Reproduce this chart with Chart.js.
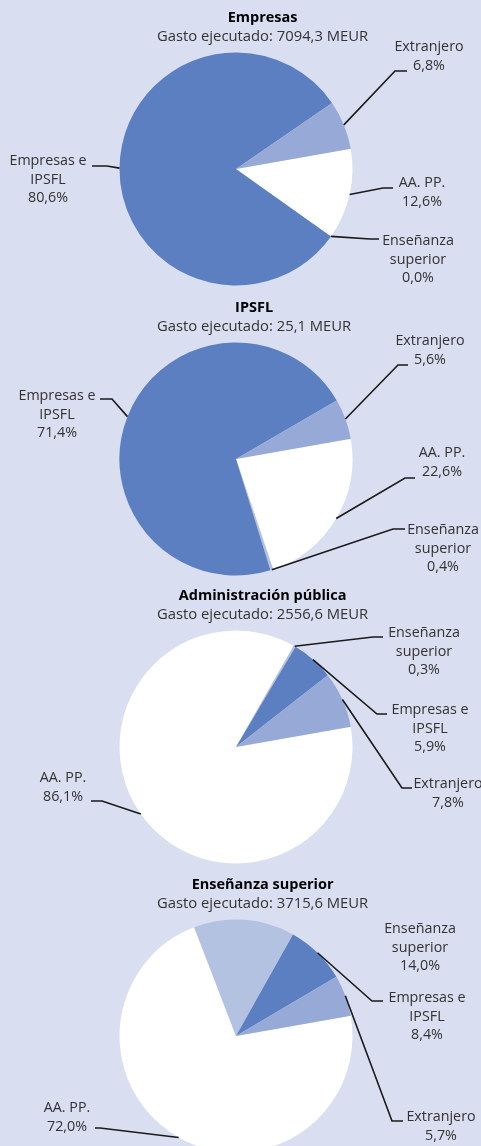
<!DOCTYPE html>
<html>
<head>
<meta charset="utf-8">
<script src="https://cdn.jsdelivr.net/npm/chart.js@4/dist/chart.umd.min.js"></script>
<style>
  html, body { margin: 0; padding: 0; }
  body { width: 481px; height: 1146px; overflow: hidden; background: #d9def0; position: relative; }
  canvas { position: absolute; left: 0; }
</style>
</head>
<body>
<canvas id="c0" width="481" height="290" style="top:0px"></canvas>
<canvas id="c1" width="481" height="290" style="top:290px"></canvas>
<canvas id="c2" width="481" height="290" style="top:578px"></canvas>
<canvas id="c3" width="481" height="290" style="top:867px"></canvas>
<script>
// slice order as in the source (clockwise, first slice starts just above 3 o'clock)
const categories = ['AA. PP.', 'Enseñanza superior', 'Empresas e IPSFL', 'Extranjero'];
const categoryLines = [['AA. PP.'], ['Enseñanza', 'superior'], ['Empresas e', 'IPSFL'], ['Extranjero']];

const chartTitles = ['Empresas', 'IPSFL', 'Administración pública', 'Enseñanza superior'];
const gastoEjecutado = [7094.3, 25.1, 2556.6, 3715.6]; // MEUR

// % of spending by performing sector
const empresasValues = [12.6, 0.0, 80.6, 6.8];
const ipsflValues = [22.6, 0.4, 71.4, 5.6];
const adminValues = [86.1, 0.3, 5.9, 7.8];
const ensenanzaValues = [72.0, 14.0, 8.4, 5.7];

const seriesValues = [empresasValues, ipsflValues, adminValues, ensenanzaValues];

const sliceColors = [
  '#ffffff', // AA. PP.
  '#b4c2e2', // Enseñanza superior
  '#5b7fc0', // Empresas e IPSFL
  '#97a9d7'  // Extranjero
];

// label placement per chart, per slice: text centre x, first line y, leader elbow, leader end
const labelLayout = [
  [
    { x: 422, y: 183, elbow: [383, 188], end: [393, 188] },
    { x: 418, y: 241, elbow: [370, 239], end: [379, 239] },
    { x: 48, y: 161, elbow: [107, 166], end: [92, 166] },
    { x: 429, y: 47, elbow: [395, 71], end: [407, 71] }
  ],
  [
    { x: 442, y: 163, elbow: [405, 188], end: [415, 188] },
    { x: 443, y: 240, elbow: [393, 239], end: [405, 239] },
    { x: 57, y: 106, elbow: [112, 109], end: [100, 109] },
    { x: 430, y: 51, elbow: [398, 75], end: [408, 75] }
  ],
  [
    { x: 63, y: 200, elbow: [102, 223], end: [91, 223] },
    { x: 424, y: 55, elbow: [373, 59], end: [383, 59] },
    { x: 430, y: 132, elbow: [377, 136], end: [387, 136] },
    { x: 448, y: 206, elbow: [402, 210], end: [412, 210] }
  ],
  [
    { x: 67, y: 241, elbow: [100, 261], end: [95, 261] },
    { x: 420, y: 62, elbow: null, end: null },
    { x: 427, y: 131, elbow: [372, 134], end: [383, 134] },
    { x: 441, y: 250, elbow: [392, 254], end: [403, 254] }
  ]
];

const FONT = '"Open Sans", "Noto Sans", sans-serif';
const TEXT_COLOR = '#333333';
const LINE_H = 18.5;

const fmt = v => v.toFixed(1).replace('.', ',');

const pieLabels = {
  id: 'pieLabels',
  afterDraw(chart, args, opts) {
    const ctx = chart.ctx;
    const layout = labelLayout[opts.index];
    const values = chart.data.datasets[0].data;
    const arcs = chart.getDatasetMeta(0).data;

    ctx.save();
    // title + subtitle
    ctx.textBaseline = 'middle';
    ctx.font = '14.8px ' + FONT;
    const sub = 'Gasto ejecutado: ' + fmt(gastoEjecutado[opts.index]) + ' MEUR';
    const subW = ctx.measureText(sub).width;
    ctx.fillStyle = TEXT_COLOR;
    ctx.textAlign = 'left';
    ctx.fillText(sub, 157, 37);
    ctx.font = 'bold 14.5px ' + FONT;
    ctx.fillStyle = '#000000';
    ctx.textAlign = 'center';
    ctx.fillText(chartTitles[opts.index], 157 + subW / 2, 18);

    // leader lines
    ctx.strokeStyle = '#1a1a1a';
    ctx.lineWidth = 1.6;
    arcs.forEach((arc, i) => {
      const l = layout[i];
      if (!l.elbow) return;
      const p = arc.getProps(['x', 'y', 'startAngle', 'endAngle', 'outerRadius'], true);
      const mid = (p.startAngle + p.endAngle) / 2;
      ctx.beginPath();
      ctx.moveTo(p.x + Math.cos(mid) * p.outerRadius, p.y + Math.sin(mid) * p.outerRadius);
      ctx.lineTo(l.elbow[0], l.elbow[1]);
      ctx.lineTo(l.end[0], l.end[1]);
      ctx.stroke();
    });

    // label texts
    ctx.font = '14.3px ' + FONT;
    ctx.fillStyle = TEXT_COLOR;
    ctx.textAlign = 'center';
    arcs.forEach((arc, i) => {
      const l = layout[i];
      const lines = categoryLines[i].concat([fmt(values[i]) + '%']);
      lines.forEach((t, k) => ctx.fillText(t, l.x, l.y + k * LINE_H));
    });
    ctx.restore();
  }
};

seriesValues.forEach((values, idx) => {
  new Chart(document.getElementById('c' + idx), {
    type: 'pie',
    data: {
      labels: categories,
      datasets: [
        {
          data: values,
          backgroundColor: sliceColors,
          borderWidth: 0
        }
      ]
    },
    options: {
      responsive: false,
      animation: false,
      rotation: 80,
      layout: {
        padding: { left: 119.5, right: 128.5, top: 52.5, bottom: 4.5 }
      },
      plugins: {
        legend: { display: false },
        tooltip: { enabled: false },
        pieLabels: { index: idx }
      }
    },
    plugins: [pieLabels]
  });
});
</script>
</body>
</html>
